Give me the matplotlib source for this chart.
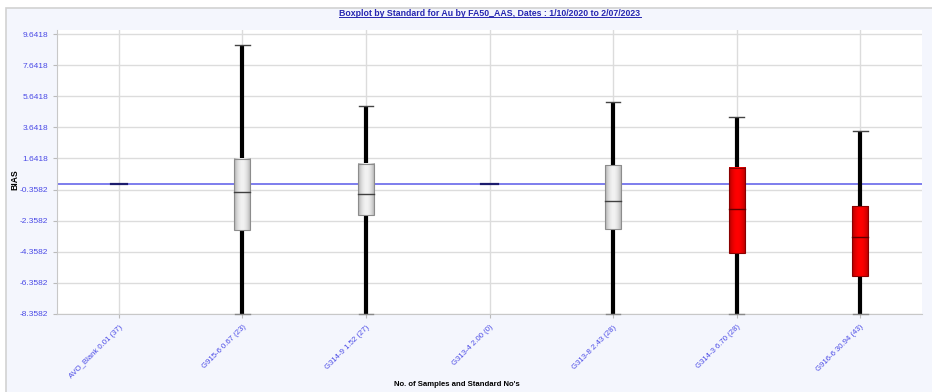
import matplotlib.pyplot as plt
import matplotlib.patches as mpatches
import numpy as np

# standards and box stats
labels = ['AVO_Blank 0.01 (37)', 'G915-6 0.67 (23)', 'G314-9 1.52 (27)', 'G313-4 2.00 (0)',
          'G313-8 2.43 (28)', 'G314-3 6.70 (28)', 'G916-6 30.94 (43)']
whisk_lo = [0.0, -8.3582, -8.3582, 0.0, -8.3582, -8.3582, -8.3582]
q1 = [0.0, -2.96, -2.02, 0.0, -2.87, -4.45, -5.94]
median = [0.0, -0.50, -0.67, 0.0, -1.10, -1.59, -3.38]
q3 = [0.0, 1.63, 1.31, 0.0, 1.20, 1.04, -1.44]
whisk_hi = [0.0, 8.94, 5.03, 0.0, 5.27, 4.31, 3.38]
fail = [False, False, False, False, False, True, True]

yticks = np.arange(-8.3582, 9.7, 2.0)
BLUE_TXT = '#4a4ae6'
FONT = ['Liberation Sans', 'DejaVu Sans']
W = 0.13  # box width

plt.rcParams['font.family'] = FONT

fig = plt.figure(figsize=(9.32, 3.92), dpi=100)
fig.patch.set_facecolor('white')
# outer panel
panel = mpatches.Rectangle((6 / 932, -0.01), 1.0, 1 - 8 / 392 + 0.01, transform=fig.transFigure,
                           facecolor='#f4f6fd', edgecolor='#d2d2d2', lw=1.2, zorder=-10)
fig.patches.append(panel)

ax = fig.add_axes([57 / 932, 1 - 314 / 392, (922 - 57) / 932, (314 - 30) / 392])
ax.set_facecolor('white')

# gradient for the "cylinder" boxes
grad = np.abs(np.linspace(-1, 1, 64))
grad = (1 - 0.35 * grad ** 2)[None, :]

for i in range(len(labels)):
    if q3[i] == q1[i] and whisk_hi[i] == whisk_lo[i]:
        # no spread: just a short dark line
        ax.plot([i - W / 2, i + W / 2], [median[i], median[i]], color='#1c1c6e', lw=1.6, zorder=4)
        continue
    # whiskers
    ax.plot([i, i], [whisk_lo[i], q1[i]], color='black', lw=3, zorder=3, solid_capstyle='butt')
    ax.plot([i, i], [q3[i], whisk_hi[i]], color='black', lw=3, zorder=3, solid_capstyle='butt')
    ax.plot([i - W / 2.2, i + W / 2.2], [whisk_hi[i], whisk_hi[i]], color='#444444', lw=1.0, zorder=3)
    ax.plot([i - W / 2.2, i + W / 2.2], [whisk_lo[i], whisk_lo[i]], color='#888888', lw=1.0, zorder=3,
            clip_on=False)
    # box body
    if fail[i]:
        cmap = plt.matplotlib.colors.LinearSegmentedColormap.from_list('r', ['#a00000', '#ff0000'])
        edge = '#8a0000'
    else:
        cmap = plt.matplotlib.colors.LinearSegmentedColormap.from_list('g', ['#a0a0a0', '#f2f2f2'])
        edge = '#8c8c8c'
    ax.imshow(grad, extent=(i - W / 2, i + W / 2, q1[i], q3[i]), cmap=cmap, vmin=0.6, vmax=1.0,
              aspect='auto', zorder=4, interpolation='bilinear')
    ax.add_patch(mpatches.Rectangle((i - W / 2, q1[i]), W, q3[i] - q1[i], fill=False,
                                    edgecolor=edge, lw=0.8, zorder=5))
    ax.plot([i - W / 2, i + W / 2], [median[i], median[i]],
            color='#600000' if fail[i] else '#404040', lw=1.0, zorder=6)

ax.set_aspect('auto')
ax.set_xlim(-0.5, 6.5)
ax.set_ylim(-8.3582, 9.9)

# zero reference line
ax.axhline(0, color='#5a5ae8', lw=1.1, zorder=2)

ax.set_yticks(yticks)
ax.set_yticklabels([f'{v:.4f}' for v in yticks], color=BLUE_TXT, fontsize=6.0)
ax.set_xticks(range(len(labels)))
ax.set_xticklabels(labels, rotation=45, ha='right', rotation_mode='anchor', color=BLUE_TXT, fontsize=5.6)
ax.tick_params(axis='both', length=3, color='#bbbbbb', width=0.8)
ax.tick_params(axis='x', pad=4)
ax.grid(True, color='#dcdcdc', lw=1.0, zorder=0)
ax.set_axisbelow(True)
for s in ['top', 'right']:
    ax.spines[s].set_visible(False)
ax.spines['left'].set_color('#c8c8c8')
ax.spines['bottom'].set_color('#c8c8c8')

fig.text(15 / 932, 1 - 180 / 392, 'BIAS', rotation=90, ha='center', va='center',
         fontsize=6.2, fontweight='bold')
fig.text(457 / 932, 1 - 384 / 392, "No. of Samples and Standard No's", ha='center', va='center',
         fontsize=5.6, fontweight='bold')
t = fig.text(490 / 932, 1 - 13 / 392, 'Boxplot by Standard for Au by FA50_AAS, Dates : 1/10/2020 to 2/07/2023',
             ha='center', va='center', fontsize=6.3, fontweight='bold', color='#2626b0')
# underline the title
fig.canvas.draw()
bb = t.get_window_extent().transformed(fig.transFigure.inverted())
fig.add_artist(plt.Line2D([bb.x0, bb.x1], [bb.y0 + 0.002, bb.y0 + 0.002],
                          transform=fig.transFigure, color='#2626b0', lw=0.7))

fig.savefig('out.png', dpi=100)
